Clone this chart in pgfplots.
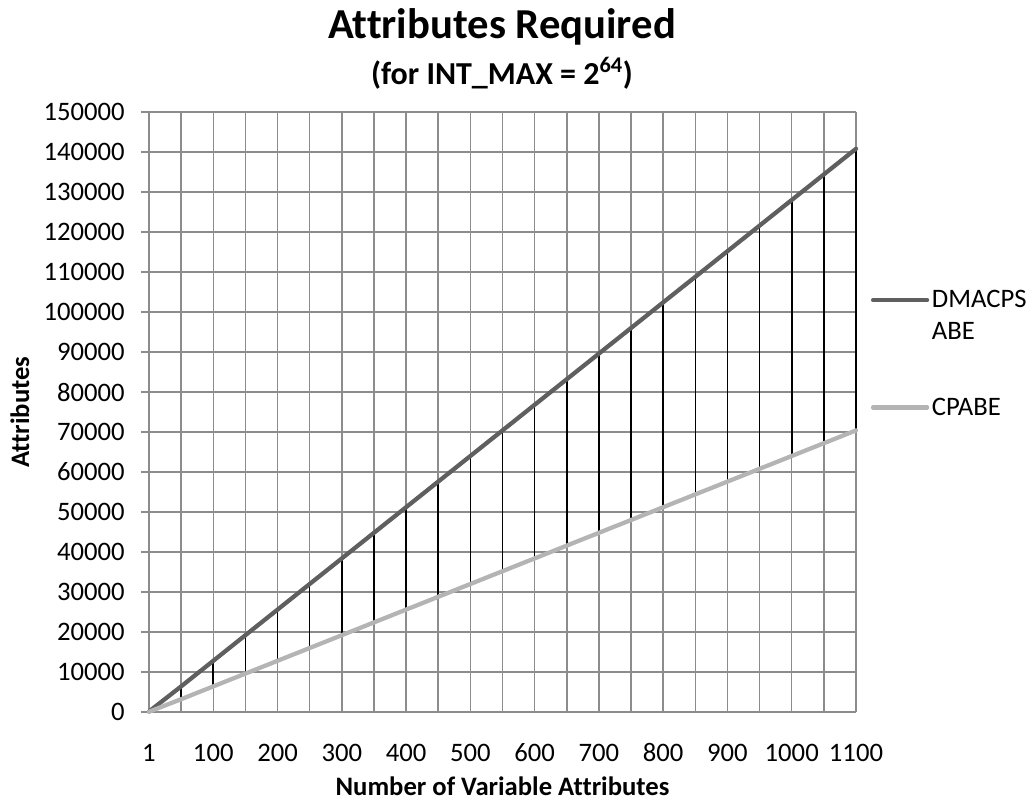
\documentclass[border=0pt]{standalone}
\usepackage{fontspec}
\setmainfont{Carlito}[Ligatures=NoCommon]
\usepackage{pgfplots}
\usepackage{pgfplotstable}
\pgfplotsset{compat=1.18}

\definecolor{dmcol}{HTML}{5F5F5F}
\definecolor{cpcol}{HTML}{B4B4B4}
\definecolor{gridcol}{HTML}{8C8C8C}

\pgfplotstableread{
idx x dm cp
0 1 128 64
1 50 6400 3200
2 100 12800 6400
3 150 19200 9600
4 200 25600 12800
5 250 32000 16000
6 300 38400 19200
7 350 44800 22400
8 400 51200 25600
9 450 57600 28800
10 500 64000 32000
11 550 70400 35200
12 600 76800 38400
13 650 83200 41600
14 700 89600 44800
15 750 96000 48000
16 800 102400 51200
17 850 108800 54400
18 900 115200 57600
19 950 121600 60800
20 1000 128000 64000
21 1050 134400 67200
22 1100 140800 70400
}\data

\begin{document}
\begin{tikzpicture}
\useasboundingbox (-111.75pt,-66pt) rectangle (658.5pt,534pt);
\begin{axis}[
  at={(0,0)}, anchor=south west,
  scale only axis, width=530.25pt, height=450pt,
  xmin=0, xmax=22, ymin=0, ymax=150000,
  xtick={0,...,22},
  xticklabels={1,,100,,200,,300,,400,,500,,600,,700,,800,,900,,1000,,1100},
  ytick={0,10000,...,150000},
  scaled y ticks=false,
  yticklabel style={/pgf/number format/fixed, /pgf/number format/1000 sep={}, anchor=east, inner sep=0pt, xshift=-12pt},
  xticklabel style={anchor=base, inner sep=0pt, yshift=-30.75pt},
  /pgf/number format/assume math mode=true,
  tick label style={font=\fontsize{20}{24}\selectfont, text=black},
  grid=major,
  grid style={color=gridcol, line width=1.1pt},
  axis line style={color=gridcol, line width=1.1pt},
  axis x line*=bottom, axis y line*=left,
  x axis line style={-}, y axis line style={-},
  xtick style={draw=none},
  ytick style={color=gridcol, line width=1.1pt},
  tick align=outside, major tick length=6pt,
  xlabel={Number of Variable Attributes},
  ylabel={Attributes},
  every axis x label/.style={at={(axis description cs:0.5,0)}, anchor=base, yshift=-62.25pt, font=\fontsize{20}{24}\selectfont\bfseries},
  every axis y label/.style={at={(axis description cs:-0.1825,0.5)}, rotate=90, anchor=center, font=\fontsize{20}{24}\selectfont\bfseries},
  legend style={draw=none, fill=none, font=\fontsize{20}{24}\selectfont,
    at={(1,0.597)}, anchor=west, xshift=11pt, inner sep=0pt,
    row sep=62pt},
  legend cell align=left,
  legend image code/.code={\draw[#1] (0pt,0pt) -- (40.5pt,0pt);},
  clip=false,
]
\addplot[draw=none, forget plot, error bars/.cd, y dir=plus, y explicit,
  error bar style={black, line width=1.2pt}, error mark=none]
  table[x=idx, y=cp, y error expr=\thisrow{dm}-\thisrow{cp}] {\data};
\addplot[dmcol, line width=3.2pt, line cap=round] table[x=idx, y=dm] {\data};
\addlegendentry{\vtop{\baselineskip=24pt\hbox{DMACPS}\hbox{ABE}}}
\addplot[cpcol, line width=3.2pt, line cap=round] table[x=idx, y=cp] {\data};
\addlegendentry{CPABE}
\end{axis}
\node[anchor=base, font=\fontsize{32}{38}\selectfont\bfseries] at (264.75pt,504.75pt) {Attributes Required};
\node[anchor=base, font=\fontsize{24}{29}\selectfont\bfseries] at (264.75pt,470.25pt) {(for INT\_MAX = 2\textsuperscript{64})};
\end{tikzpicture}
\end{document}
